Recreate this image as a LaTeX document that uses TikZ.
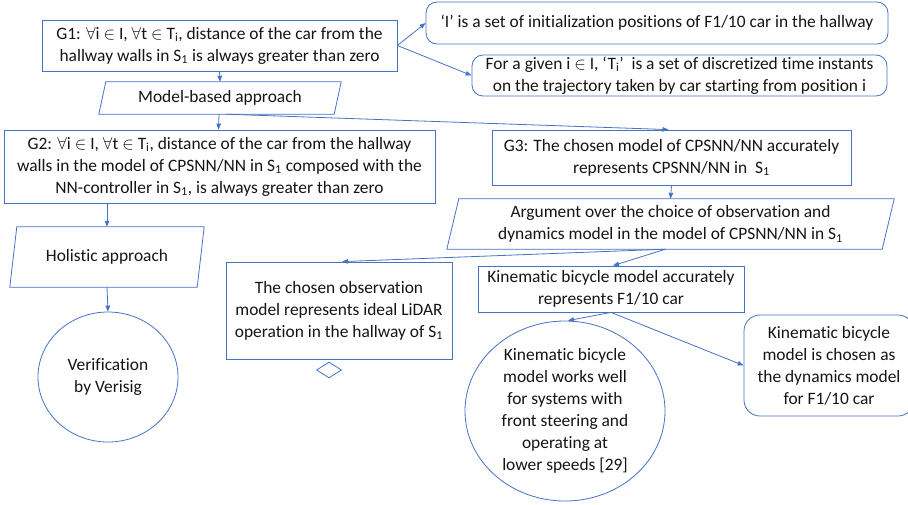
\documentclass[tikz,border=0pt]{standalone}
\usepackage{fontspec}
\setmainfont{Carlito}[Ligatures=NoCommon]
\usetikzlibrary{arrows.meta,shapes.geometric}
\definecolor{lineblue}{RGB}{68,114,196}
\definecolor{inkdark}{RGB}{20,20,20}
\newcommand{\sbs}[1]{\textsubscript{#1}}
\begin{document}
\begin{tikzpicture}[x=1pt,y=-1pt,
  font=\fontsize{17.4}{22}\selectfont,
  base/.style={align=center,inner sep=0pt,text=inkdark},
  box/.style={base,draw=lineblue,line width=0.8pt},
  rbox/.style={box,rounded corners=11pt},
  slab/.style={base},
  oval/.style={box,ellipse},
  frame/.style={draw=lineblue,line width=0.8pt},
  link/.style={draw=lineblue,line width=0.8pt,-{Triangle[length=6pt,width=4.5pt]}}]
\useasboundingbox (0,0) rectangle (908,504);

% goals and context
\node[box,minimum width=355pt,minimum height=51pt] (g1) at (219.5,45.5)
  {G1: $\forall$i $\in$ I, $\forall$t $\in$ T\sbs{i}, distance of the car from the\\hallway walls in S\sbs{1} is always greater than zero};
\node[rbox,minimum width=462pt,minimum height=42pt] (ctxI) at (657,23)
  {‘I’ is a set of initialization positions of F1/10 car in the hallway};
\node[rbox,minimum width=415pt,minimum height=41pt] (ctxT) at (679.5,75.5)
  {For a given i $\in$ I, ‘T\sbs{i}’~ is a set of discretized time instants\\on the trajectory taken by car starting from position i};

% strategy: model-based approach
\node[slab,minimum width=242pt,minimum height=32pt] (mba) at (220,98) {Model-based approach};
\draw[frame] ([xshift=7pt]mba.north west) -- (mba.north east)
  -- ([xshift=-7pt]mba.south east) -- (mba.south west) -- cycle;

\node[box,minimum width=431pt,minimum height=73pt] (g2) at (219.5,166.5)
  {G2: $\forall$i $\in$ I, $\forall$t $\in$ T\sbs{i}, distance of the car from the hallway\\walls in the model of CPSNN/NN in S\sbs{1} composed with the\\NN-controller in S\sbs{1}, is always greater than zero};

\node[slab,minimum width=194pt,minimum height=60pt] (hol) at (107,257) {Holistic approach};
\draw[frame] ([xshift=7pt]hol.north west) -- (hol.north east)
  -- ([xshift=-7pt]hol.south east) -- (hol.south west) -- cycle;

\node[oval,minimum width=140pt,minimum height=130pt] (ver) at (108,377)
  {Verification\\by Verisig};

\node[box,minimum width=359pt,minimum height=55pt] (g3) at (671.5,157.5)
  {G3: The chosen model of CPSNN/NN accurately\\represents CPSNN/NN in~ S\sbs{1}};

\node[slab,minimum width=447pt,minimum height=50pt] (arg) at (670.5,224)
  {Argument over the choice of observation and\\dynamics model in the model of CPSNN/NN in S\sbs{1}};
\draw[frame] ([xshift=12pt]arg.north west) -- (arg.north east)
  -- ([xshift=-12pt]arg.south east) -- (arg.south west) -- cycle;

\node[box,minimum width=226pt,minimum height=97pt] (obs) at (339,310.5)
  {The chosen observation\\model represents ideal LiDAR\\operation in the hallway of S\sbs{1}};
\node[draw=lineblue,line width=0.8pt,diamond,inner sep=0pt,minimum width=25pt,minimum height=16pt] (undev) at (329,370) {};

\node[box,minimum width=266pt,minimum height=46pt] (kin) at (611,289)
  {Kinematic bicycle model accurately\\represents F1/10 car};
\node[oval,minimum width=200pt,minimum height=180pt] (kell) at (565,411)
  {Kinematic bicycle\\model works well\\for systems with\\front steering and\\operating at\\lower speeds [29]};
\node[rbox,rounded corners=16pt,minimum width=170pt,minimum height=101pt] (dyn) at (829,365.5)
  {Kinematic bicycle\\model is chosen as\\the dynamics model\\for F1/10 car};

% connectors
\draw[link] (g1.east) -- (ctxI.west);
\draw[link] (g1.east) -- (ctxT.west);
\draw[link] (g1.south) -- (mba.north);
\draw[link] ([xshift=-1pt]mba.south) -- ([xshift=-1pt]g2.north);
\draw[link] ([xshift=6pt]mba.south) -- ([xshift=-3pt]g3.north);
\draw[link] (hol.north |- g2.south) -- (hol.north);
\draw[link] (hol.south) -- (ver.north);
\draw[link] (g3.south) -- (arg.north);
\coordinate (argout) at ([xshift=-5pt]arg.south);
\draw[link] (argout) -- ([xshift=3pt]obs.north);
\draw[link] (argout) -- ([xshift=2pt]kin.north);
\draw[link] (kin.south) -- ([xshift=3pt]kell.north);
\draw[link] (kin.south) -- (dyn.west);
\end{tikzpicture}
\end{document}
